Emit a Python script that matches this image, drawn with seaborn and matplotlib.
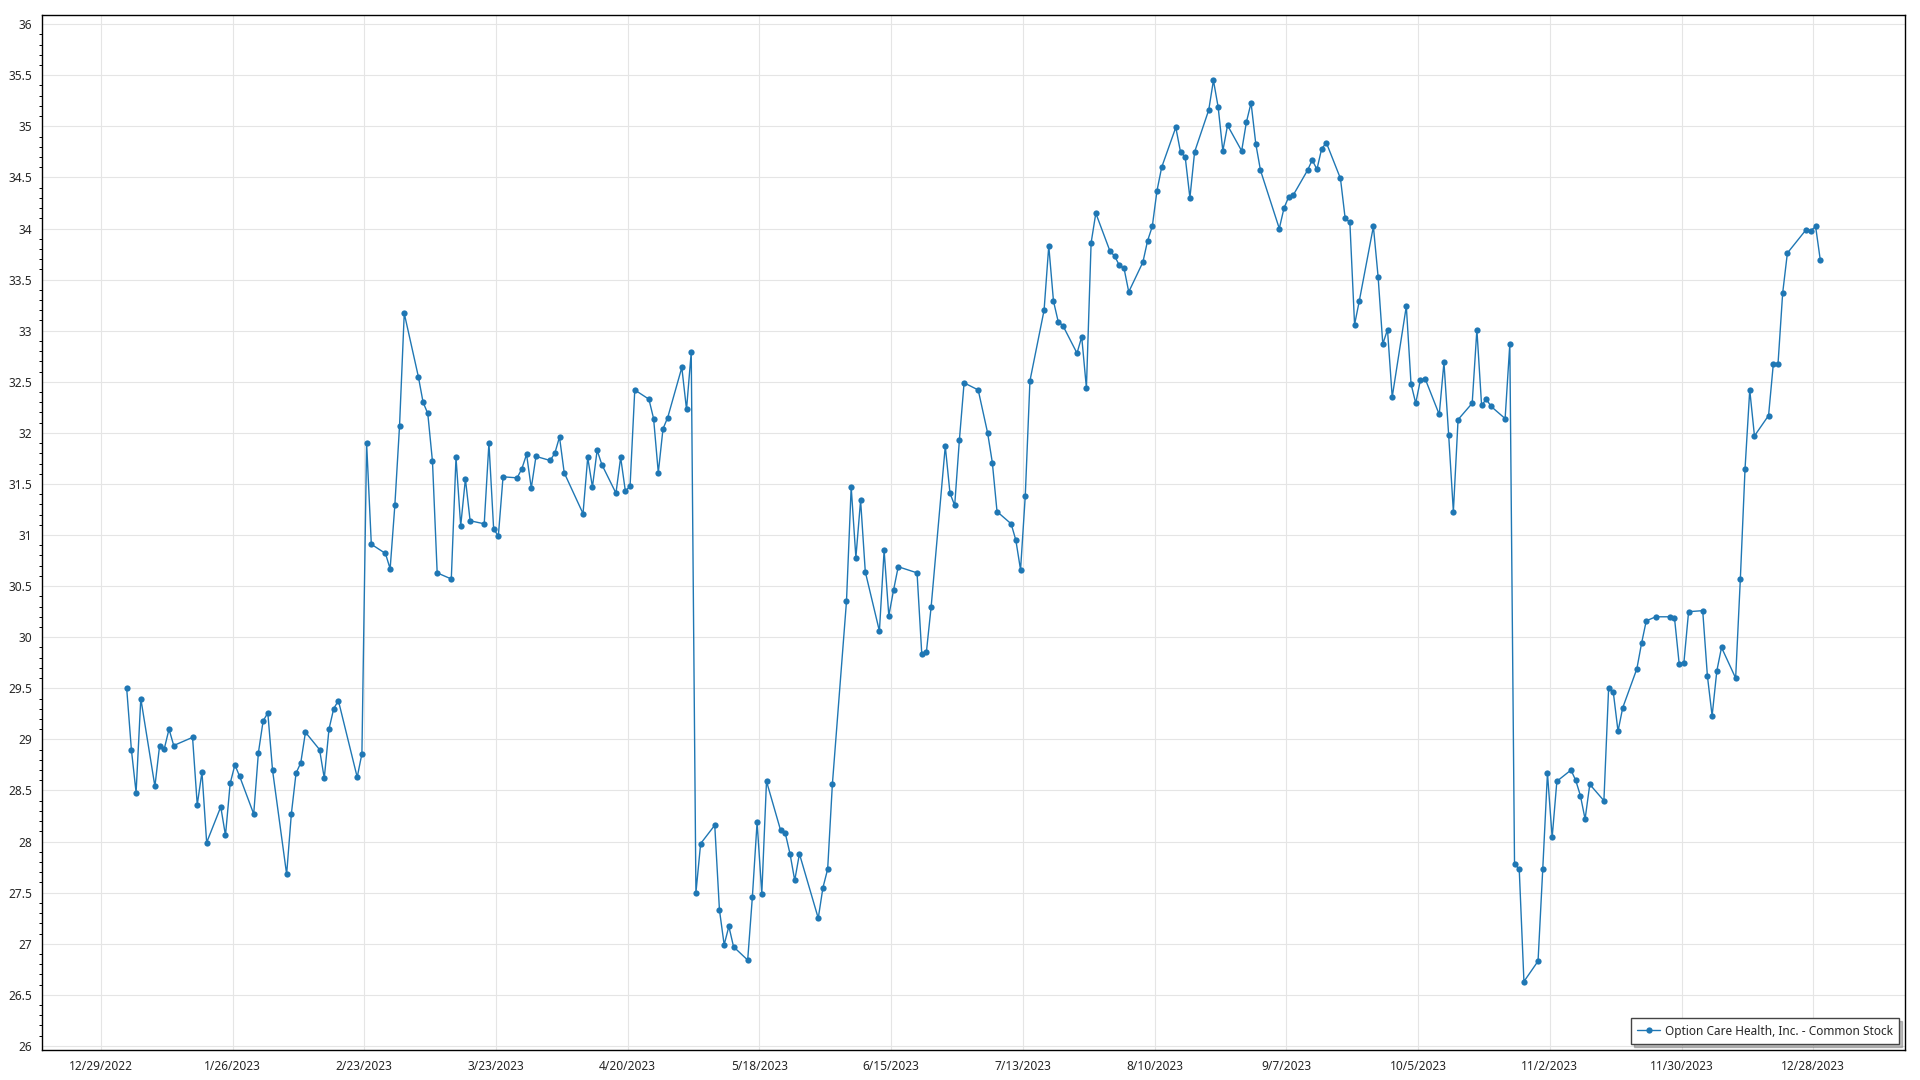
import matplotlib
matplotlib.use("Agg")
import matplotlib.pyplot as plt
import matplotlib.ticker as mticker
import matplotlib.dates as mdates
import pandas as pd
import seaborn as sns

# closing prices by month (trading days of 2023)
jan = [29.50, 28.90, 28.48, 29.40, 28.54, 28.94, 28.91, 29.10, 28.94, 29.02,
       28.36, 28.68, 27.99, 28.34, 28.06, 28.57, 28.75, 28.64, 28.27, 28.87]
feb = [29.18, 29.26, 28.70, 27.68, 28.27, 28.67, 28.77, 29.07, 28.90, 28.62,
       29.10, 29.30, 29.38, 28.63, 28.86, 31.90, 30.91, 30.82, 30.67]
mar = [31.29, 32.07, 33.17, 32.55, 32.30, 32.19, 31.72, 30.63, 30.57, 31.76,
       31.09, 31.55, 31.14, 31.11, 31.90, 31.06, 30.99, 31.57, 31.56, 31.65,
       31.79, 31.46, 31.77]
apr = [31.73, 31.80, 31.96, 31.61, 31.21, 31.76, 31.47, 31.83, 31.69, 31.41,
       31.76, 31.43, 31.48, 32.42, 32.33, 32.14, 31.61, 32.04, 32.15]
may = [32.64, 32.23, 32.79, 27.50, 27.98, 28.16, 27.33, 26.99, 27.17, 26.97,
       26.84, 27.46, 28.19, 27.49, 28.59, 28.11, 28.08, 27.88, 27.62, 27.88,
       27.25, 27.55]
jun = [27.73, 28.56, 30.35, 31.47, 30.78, 31.34, 30.64, 30.06, 30.85, 30.21,
       30.46, 30.69, 30.63, 29.84, 29.86, 30.30, 31.87, 31.41, 31.29, 31.93,
       32.49]
jul = [32.42, 32.00, 31.71, 31.23, 31.11, 30.95, 30.66, 31.38, 32.51, 33.20,
       33.83, 33.29, 33.09, 33.05, 32.78, 32.94, 32.44, 33.86, 34.15, 33.78]
aug = [33.73, 33.64, 33.61, 33.38, 33.67, 33.88, 34.02, 34.37, 34.60, 34.99,
       34.75, 34.70, 34.30, 34.75, 35.16, 35.45, 35.19, 34.76, 35.01, 34.76,
       35.04, 35.23, 34.83]
sep = [34.57, 34.00, 34.20, 34.31, 34.33, 34.57, 34.67, 34.58, 34.78, 34.84,
       34.49, 34.10, 34.06, 33.06, 33.29, 34.02, 33.53, 32.87, 33.01, 32.35]
oct_ = [33.24, 32.48, 32.29, 32.52, 32.53, 32.18, 32.69, 31.98, 31.23, 32.13,
        32.29, 33.01, 32.27, 32.33, 32.26, 32.14, 32.87, 27.78, 27.73, 26.63,
        26.83, 27.73]
nov = [28.67, 28.04, 28.59, 28.70, 28.60, 28.45, 28.22, 28.56, 28.40, 29.50,
       29.46, 29.08, 29.31, 29.69, 29.94, 30.16, 30.20, 30.20, 30.19, 29.74,
       29.75]
dec = [30.25, 30.26, 29.62, 29.23, 29.67, 29.90, 29.60, 30.57, 31.65, 32.42,
       31.97, 32.17, 32.67, 32.67, 33.37, 33.76, 33.99, 33.98, 34.02, 33.69]

holidays = ["2023-01-02", "2023-01-16", "2023-02-20", "2023-04-07", "2023-05-29",
            "2023-06-19", "2023-07-04", "2023-09-04", "2023-11-23", "2023-12-25"]
series_name = "Option Care Health, Inc. - Common Stock"

prices = jan + feb + mar + apr + may + jun + jul + aug + sep + oct_ + nov + dec
dates = pd.bdate_range("2023-01-03", "2023-12-29", freq="C", holidays=holidays)
# points sit half a day after the midnight tick marks in the original
df = pd.DataFrame({"Date": dates + pd.Timedelta(hours=12), "Price": prices})

sns.set_style("white")
plt.rcParams["font.family"] = ["Noto Sans", "DejaVu Sans"]

fig = plt.figure(figsize=(19.2, 10.8), dpi=100)
ax = fig.add_axes([42 / 1920, 30 / 1080, 1863 / 1920, 1035 / 1080])

sns.lineplot(data=df, x="Date", y="Price", ax=ax, color="#1f77b4", linewidth=1.0,
             marker="o", markersize=4.5, markeredgewidth=0, markerfacecolor="#1f77b4",
             label=series_name)

ax.set_ylim(25.96, 36.09)
ax.set_xlabel("")
ax.set_ylabel("")

tick_dates = pd.date_range("2022-12-29", periods=14, freq="28D")
ax.xaxis.set_major_locator(mticker.FixedLocator(mdates.date2num(tick_dates)))
ax.xaxis.set_major_formatter(mticker.FuncFormatter(
    lambda v, p: (lambda d: f"{d.month}/{d.day}/{d.year}")(mdates.num2date(v))))
ax.yaxis.set_major_locator(mticker.MultipleLocator(0.5))
ax.yaxis.set_minor_locator(mticker.MultipleLocator(0.1))
ax.yaxis.set_major_formatter(mticker.FuncFormatter(lambda v, p: f"{v:g}"))

ax.grid(True, which="major", color="#e5e5e5", linewidth=0.8)
ax.set_axisbelow(True)
for s in ax.spines.values():
    s.set_color("black")
    s.set_linewidth(1.0)

ax.tick_params(axis="both", which="major", direction="out", length=4, width=0.8,
               color="black", labelsize=8.6, labelcolor="#262626", pad=3)
ax.tick_params(axis="y", which="minor", direction="out", length=2.5, width=0.7,
               color="black", left=True)
ax.tick_params(axis="x", which="minor", bottom=False)

leg = ax.legend(loc="lower right", fontsize=8.5, frameon=True, fancybox=False,
                edgecolor="#444444", framealpha=1, borderpad=0.55,
                handlelength=1.9, handletextpad=0.4, borderaxespad=0.5,
                shadow={"ox": 2, "oy": -2, "alpha": 0.35})
leg.get_frame().set_linewidth(1.0)

plt.savefig("out.png", dpi=100)
